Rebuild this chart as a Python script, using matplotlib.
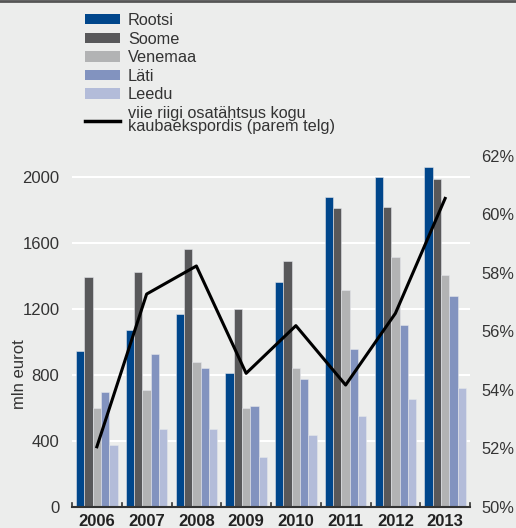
import matplotlib
matplotlib.use("Agg")
import matplotlib.pyplot as plt
import numpy as np
from matplotlib.lines import Line2D
from matplotlib.patches import Patch

years = ["2006", "2007", "2008", "2009", "2010", "2011", "2012", "2013"]
rootsi = [947, 1073, 1168, 814, 1364, 1881, 2000, 2062]
soome = [1396, 1426, 1562, 1198, 1489, 1810, 1820, 1986]
venemaa = [602, 709, 877, 602, 844, 1315, 1513, 1404]
lati = [697, 925, 844, 610, 774, 956, 1105, 1279]
leedu = [374, 475, 475, 305, 436, 553, 655, 719]
osatahtsus = [52.06, 57.28, 58.24, 54.57, 56.2, 54.17, 56.62, 60.55]

series_names = ["Rootsi", "Soome", "Venemaa", "Läti", "Leedu"]
line_name = "viie riigi osatähtsus kogu\nkaubaekspordis (parem telg)"
left_ticks = [0, 400, 800, 1200, 1600, 2000]
right_ticks = [50, 52, 54, 56, 58, 60, 62]

colors = ["#00468B", "#58585A", "#B2B3B4", "#8293BF", "#B3BCD9"]
bg = "#ECEDEC"
font = "Liberation Sans"
plt.rcParams["font.family"] = [font, "DejaVu Sans"]

fig = plt.figure(figsize=(5.16, 5.28), dpi=100, facecolor=bg)
ax = fig.add_axes([72/516, 1-507/528, 398/516, 351/528])
ax.set_facecolor(bg)

x = np.arange(len(years))
data = [rootsi, soome, venemaa, lati, leedu]
step = 0.167
for i, (vals, c) in enumerate(zip(data, colors)):
    ax.bar(x + (i - 2) * step, vals, width=step, color=c,
           edgecolor="#E4E6EA", linewidth=0.4, zorder=3)

ax.set_xlim(-0.5, len(years) - 0.5)
ax.set_ylim(0, 2127)
ax.set_yticks(left_ticks)
ax.set_yticklabels([str(t) for t in left_ticks], fontsize=12, color="#333333")
ax.tick_params(axis="y", length=0, pad=9)
for t in left_ticks[1:]:
    ax.axhline(t, color="white", lw=1.5, zorder=1)

ax.set_xticks(x)
ax.set_xticklabels(years, fontsize=12, fontweight="bold", color="#222222")
ax.tick_params(axis="x", length=0, pad=5)
for b in np.arange(-0.5, len(years), 1.0):
    ax.plot([b, b], [0, 25], color="#333333", lw=1.2, zorder=4, clip_on=False)

for s in ["top", "right", "left"]:
    ax.spines[s].set_visible(False)
ax.spines["bottom"].set_color("#333333")
ax.spines["bottom"].set_linewidth(1.5)
ax.spines["bottom"].set_zorder(5)

ax2 = ax.twinx()
ax2.plot(x, osatahtsus, color="black", lw=2.2, zorder=6)
ax2.set_ylim(50, 62)
ax2.set_yticks(right_ticks)
ax2.set_yticklabels([f"{t}%" for t in right_ticks], fontsize=11.8, color="#333333")
ax2.tick_params(axis="y", length=0, pad=8.3)
for s in ax2.spines.values():
    s.set_visible(False)

fig.text(19/516, 1-374/528, "mln eurot", rotation=90, ha="center", va="center",
         fontsize=12, color="#333333")

handles = [Patch(facecolor=c, edgecolor="none") for c in colors]
handles.append(Line2D([0], [0], color="black", lw=2.5))
leg = fig.legend(handles, series_names + [line_name], loc="upper left",
                 bbox_to_anchor=(85/516, 1-13/528), frameon=False, fontsize=11.7,
                 handlelength=2.15, handleheight=0.6, handletextpad=0.5,
                 labelspacing=0.22, labelcolor="#333333", borderpad=0,
                 borderaxespad=0)
leg.get_texts()[-1].set_linespacing(0.85)

fig.add_artist(Line2D([0, 1], [1-0.8/528, 1-0.8/528], color="#555555", lw=2))

fig.savefig("out.png", dpi=100, facecolor=bg)
